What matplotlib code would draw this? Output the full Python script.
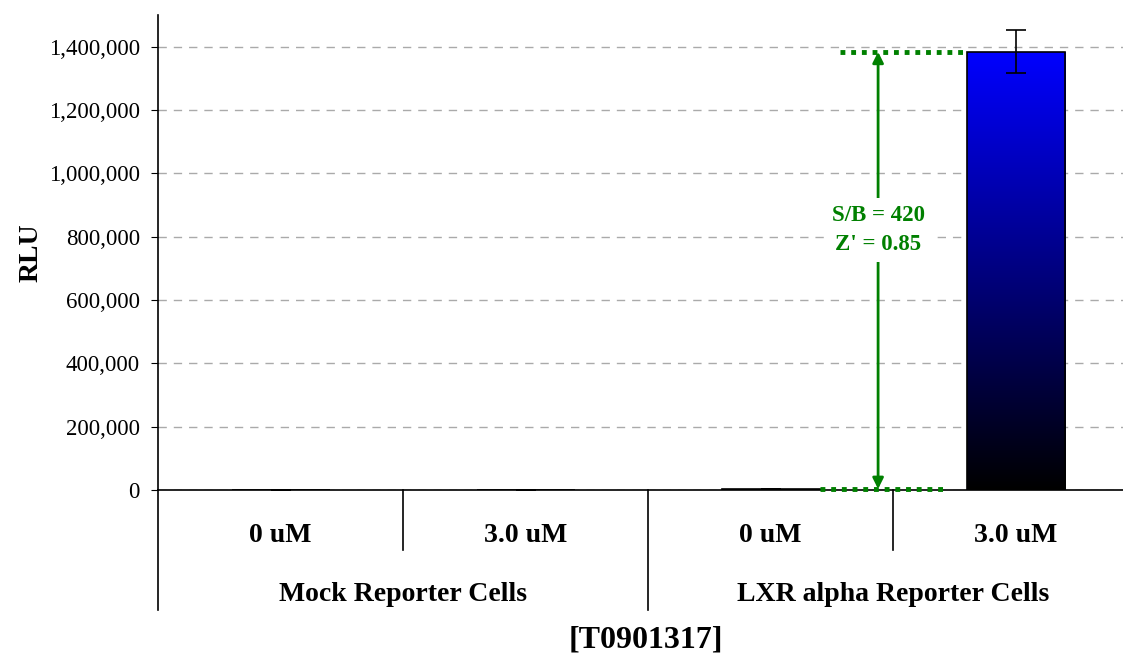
import numpy as np
import matplotlib.pyplot as plt
import matplotlib.transforms as mtransforms
from matplotlib.colors import LinearSegmentedColormap
from matplotlib.ticker import FuncFormatter

plt.rcParams['font.family'] = ['Liberation Serif', 'DejaVu Serif']

# data
doses = ['0 uM', '3.0 uM', '0 uM', '3.0 uM']
groups = ['Mock Reporter Cells', 'LXR alpha Reporter Cells']
rlu = [1200, 1300, 3300, 1384000]
rlu_err = [300, 300, 800, 68000]
sb_text = 'S/B = 420\nZ\' = 0.85'

fig = plt.figure(figsize=(11.23, 6.56), dpi=100)
ax = fig.add_axes([0.1407, 0.253, 0.8727, 0.724])

x = np.arange(len(rlu))
w = 0.4
cmap = LinearSegmentedColormap.from_list('bk_blue', ['#000000', '#0000ff'])
bars = ax.bar(x, rlu, width=w, color='none', edgecolor='black', linewidth=1.2, zorder=3)
grad = np.linspace(0, 1, 256).reshape(-1, 1)
for b in bars:
    im = ax.imshow(grad, cmap=cmap, origin='lower', aspect='auto',
                   extent=[b.get_x(), b.get_x() + b.get_width(), 0, b.get_height()],
                   zorder=2)
    im.set_clip_path(b)
ax.errorbar(x, rlu, yerr=rlu_err, fmt='none', ecolor='black', elinewidth=1.2,
            capsize=7, capthick=1.2, zorder=4)

ax.set_xlim(-0.5, 3.5)
ax.set_ylim(0, 1500000)
ax.set_yticks(np.arange(0, 1400001, 200000))
ax.yaxis.set_major_formatter(FuncFormatter(lambda v, p: f'{int(v):,}'))
ax.tick_params(axis='y', labelsize=16.5, length=5, pad=8, direction='out')
ax.tick_params(axis='x', bottom=False, labelbottom=False)
ax.yaxis.grid(True, linestyle=(0, (6, 5)), color='#aaaaaa', linewidth=1)
ax.set_axisbelow(True)
for s in ['top', 'right']:
    ax.spines[s].set_visible(False)
ax.spines['left'].set_linewidth(1.2)
ax.spines['bottom'].set_linewidth(1.2)
ax.set_ylabel('RLU', fontsize=20, fontweight='bold', labelpad=4)

# category axis
tr = mtransforms.blended_transform_factory(ax.transData, ax.transAxes)
for xs in [0.5, 2.5]:
    ax.plot([xs, xs], [0, -0.126], transform=tr, color='black', lw=1.2, clip_on=False)
for xs in [-0.5, 1.5]:
    ax.plot([xs, xs], [0, -0.253], transform=tr, color='black', lw=1.2, clip_on=False)
for xi, d in zip(x, doses):
    ax.text(xi, -0.095, d, transform=tr, ha='center', va='center',
            fontsize=20, fontweight='bold')
for gi, g in enumerate(groups):
    ax.text(0.5 + 2 * gi, -0.219, g, transform=tr, ha='center', va='center',
            fontsize=20, fontweight='bold')
fig.text(0.575, 0.024, '[T0901317]', ha='center', va='center', fontsize=23, fontweight='bold')

# S/B annotation
gc = '#008000'
ax.plot([2.284, 3 - w / 2], [rlu[3], rlu[3]], color=gc, lw=3.5,
        linestyle=(0, (1, 1.2)), zorder=5, clip_on=False)
ax.plot([2 + w / 2, 2.704], [rlu[2], rlu[2]], color=gc, lw=3.5,
        linestyle=(0, (1, 1.2)), zorder=5, clip_on=False)
ax.annotate('', xy=(2.439, rlu[3]), xytext=(2.439, rlu[2]),
            arrowprops=dict(arrowstyle='<|-|>', color=gc, lw=2,
                            mutation_scale=16, shrinkA=0, shrinkB=0), zorder=5)
ax.text(2.439, 821600, sb_text, ha='center', va='center', color=gc, fontsize=16.5,
        fontweight='bold', linespacing=1.5, zorder=6,
        bbox=dict(facecolor='white', edgecolor='none', pad=5))

fig.savefig('out.png', dpi=100)
